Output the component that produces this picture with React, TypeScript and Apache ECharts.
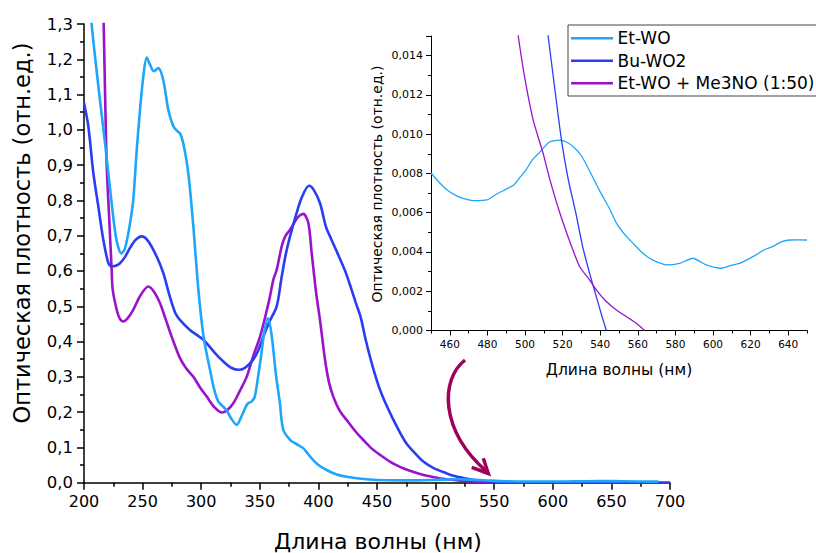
import React, { useEffect, useRef } from "react";
import * as echarts from "echarts";

// ---- Main chart data: [wavelength nm, optical density] ----
const etWoMain: [number, number][] = [
  [204, 1.4], [206.5, 1.3], [210, 1.19], [213.6, 1.085], [218, 0.96], [222, 0.84], [226.3, 0.717],
  [229, 0.67], [232, 0.65], [235, 0.665], [237.8, 0.707], [240, 0.75], [242, 0.8], [245, 0.943],
  [247.8, 1.057], [250.6, 1.151], [253.5, 1.205], [256.3, 1.185], [259.7, 1.166], [263.4, 1.175],
  [267.6, 1.142], [271.9, 1.057], [276.2, 1.01], [280, 0.995], [282, 0.99], [284.7, 0.962],
  [289, 0.877], [293.3, 0.726], [297.6, 0.547], [302, 0.414], [307.5, 0.32], [311, 0.265],
  [314.6, 0.23], [318, 0.218], [321.7, 0.205], [326, 0.18], [330.3, 0.164], [334, 0.185],
  [338, 0.215], [340, 0.225], [343, 0.23], [345.7, 0.244], [348.5, 0.3], [351.4, 0.367],
  [354, 0.43], [357, 0.466], [360, 0.42], [364, 0.3], [367, 0.23], [370, 0.15], [376, 0.121],
  [381, 0.11], [387, 0.098], [391, 0.082], [395.6, 0.064], [400, 0.05], [407, 0.036],
  [415, 0.024], [424, 0.017], [441, 0.01], [460, 0.007], [480, 0.0066], [500, 0.008],
  [519, 0.0097], [540, 0.007], [560, 0.0042], [580, 0.0034], [600, 0.0033], [620, 0.0037],
  [640, 0.0046], [660, 0.004], [690, 0.003],
];

const buWo2Main: [number, number][] = [
  [200, 1.076], [203.7, 1.01], [208, 0.877], [212.2, 0.783], [216.5, 0.688], [220.8, 0.622],
  [223.6, 0.613], [227, 0.615], [230.7, 0.622], [235, 0.64], [239.2, 0.665], [244, 0.688],
  [249.2, 0.698], [254.9, 0.684], [262, 0.641], [267.7, 0.594], [273, 0.53], [278, 0.48],
  [282, 0.461], [290.4, 0.433], [301.8, 0.405], [313.2, 0.362], [320, 0.34], [326, 0.325],
  [331.7, 0.32], [337, 0.325], [343, 0.343], [348, 0.37], [353, 0.414], [358, 0.455],
  [364.4, 0.5], [368.5, 0.58], [372, 0.645], [375.8, 0.698], [381, 0.76], [386, 0.81],
  [392, 0.8415], [396, 0.83], [401.4, 0.792], [406.4, 0.726], [411, 0.69], [415, 0.66],
  [419, 0.63], [423.5, 0.594], [428, 0.55], [432, 0.509], [436, 0.47], [440, 0.41],
  [444, 0.357], [448, 0.31], [452.6, 0.263], [458, 0.22], [464, 0.178], [470, 0.14],
  [475, 0.112], [482, 0.085], [489.5, 0.06], [498, 0.042], [509, 0.027], [517, 0.018],
  [526, 0.012], [537, 0.006], [549, 0.003], [570, 0.001], [700, 0.0005],
];

const etWoMe3noMain: [number, number][] = [
  [215.5, 1.5], [216.8, 1.3], [218, 1.1], [219.4, 0.896], [221.5, 0.75], [223.6, 0.603],
  [224.5, 0.547], [227.9, 0.49], [230.5, 0.465], [233.5, 0.457], [237, 0.465], [242, 0.49],
  [248, 0.53], [254.9, 0.556], [260, 0.54], [264.8, 0.509], [270, 0.46], [274.8, 0.414],
  [281.9, 0.353], [287, 0.325], [293.3, 0.3], [299, 0.27], [304.7, 0.244], [311, 0.215],
  [317.5, 0.199], [322, 0.205], [327.4, 0.225], [333, 0.26], [338.8, 0.3], [344, 0.355],
  [350.2, 0.414], [355, 0.475], [358.7, 0.528], [361.5, 0.575], [364.4, 0.603], [368.7, 0.67],
  [372, 0.7], [375.8, 0.717], [380, 0.74], [383, 0.754], [387.1, 0.762], [391.4, 0.736],
  [394.3, 0.65], [398, 0.54], [401.4, 0.46], [405.6, 0.35], [409, 0.285], [412.7, 0.244],
  [418, 0.205], [424, 0.178], [431, 0.148], [438.3, 0.121], [445, 0.098], [452.6, 0.079],
  [461, 0.06], [469.6, 0.045], [478, 0.034], [486.7, 0.025], [495, 0.018], [503.8, 0.012],
  [512, 0.009], [520.8, 0.006], [535, 0.003], [550, 0.0015], [565, 0.0005],
];

// ---- Inset data ----
const etWoInset: [number, number][] = [
  [450, 0.00802], [454.8, 0.0075], [458.6, 0.00716], [465.5, 0.00678], [472.7, 0.00661],
  [479.8, 0.00665], [484.9, 0.00695], [490, 0.0072], [494, 0.00741], [497.3, 0.0078],
  [500, 0.0081], [504, 0.0087], [508, 0.0091], [513, 0.0096], [518.7, 0.0097], [522, 0.0096],
  [525.7, 0.00936], [530, 0.0089], [534.5, 0.0081], [539.8, 0.0071], [545, 0.0062],
  [548.7, 0.00546], [553, 0.0049], [557.5, 0.00444], [562, 0.004], [566.3, 0.00368],
  [570, 0.0035], [575.2, 0.00334], [582.2, 0.00342], [589.3, 0.00368], [596.4, 0.00334],
  [604.4, 0.00317], [609, 0.0033], [614.1, 0.00342], [618, 0.0036], [622.9, 0.00385],
  [627, 0.0041], [631.8, 0.00427], [636, 0.0045], [640.7, 0.00461], [645, 0.00462],
  [650, 0.00461],
];

const buWo2Inset: [number, number][] = [
  [510, 0.0167], [512.3, 0.015], [516, 0.0122], [519.4, 0.0097], [523, 0.0077], [527, 0.006],
  [530.6, 0.0043], [534.4, 0.0029], [538, 0.0017], [541, 0.0007], [543.3, 0],
];

const etWoMe3noInset: [number, number][] = [
  [494, 0.0168], [496.4, 0.015], [500, 0.0128], [504.4, 0.0107], [509.7, 0.009],
  [513.2, 0.0077], [518.5, 0.006], [524.7, 0.0043], [529.1, 0.00325], [534.4, 0.00257],
  [538, 0.00206], [543, 0.0015], [548.6, 0.00104], [554, 0.0007], [559.2, 0.00037],
  [563.6, 0],
];

const seriesNames = ["Et-WO", "Bu-WO2", "Et-WO + Me3NO (1:50)"];
const seriesColors = ["#1ea6fb", "#2b3cf5", "#9a12cc"];
const insetXLabels = [460, 480, 500, 520, 540, 560, 580, 600, 620, 640];

const xTitle = "Длина волны (нм)";
const yTitle = "Оптическая плотность (отн.ед.)";

const FONT = "DejaVu Sans";

export default function App() {
  const ref = useRef<HTMLDivElement>(null);

  useEffect(() => {
    if (!ref.current) return;
    const chart = echarts.init(ref.current, undefined, { renderer: "svg" });

    const axisLineStyle = { color: "#000", width: 1.5 };
    const mainSeriesData = [etWoMain, buWo2Main, etWoMe3noMain];
    const insetSeriesData = [etWoInset, buWo2Inset, etWoMe3noInset];

    const series: any[] = [];
    mainSeriesData.forEach((d, i) => {
      series.push({
        name: seriesNames[i],
        type: "line",
        xAxisIndex: 0,
        yAxisIndex: 0,
        data: d,
        symbol: "none",
        smooth: 0.3,
        lineStyle: { color: seriesColors[i], width: 2.6 },
        clip: true,
        z: 3 - i,
      });
    });
    insetSeriesData.forEach((d, i) => {
      series.push({
        name: seriesNames[i],
        type: "line",
        xAxisIndex: 1,
        yAxisIndex: 1,
        data: d,
        symbol: "none",
        smooth: 0.2,
        lineStyle: { color: seriesColors[i], width: 1.3 },
        clip: true,
      });
    });

    // Legend drawn as graphic
    const legendLeft = 568;
    const legendTop = 25;
    const rowGap = 22.5;
    const legendElems: any[] = [
      {
        type: "rect",
        shape: { x: legendLeft, y: legendTop, width: 270, height: 71 },
        style: { fill: "#fff", stroke: "#444", lineWidth: 1 },
        z: 10,
      },
    ];
    seriesNames.forEach((n, i) => {
      const cy = legendTop + 13.3 + i * rowGap;
      legendElems.push({
        type: "line",
        shape: { x1: legendLeft + 3, y1: cy, x2: legendLeft + 45, y2: cy },
        style: { stroke: seriesColors[i], lineWidth: 2.6 },
        z: 11,
      });
      legendElems.push({
        type: "text",
        x: legendLeft + 49.5,
        y: cy,
        style: {
          text: n,
          font: `17px '${FONT}'`,
          fill: "#000",
          textAlign: "left",
          textVerticalAlign: "middle",
        },
        z: 11,
      });
    });

    const option: any = {
      animation: false,
      backgroundColor: "#fff",
      grid: [
        { left: 84, top: 24, width: 586, height: 458.7, containLabel: false, outerBoundsMode: "none" },
        { left: 431, top: 36, width: 376, height: 294.5, containLabel: false, outerBoundsMode: "none" },
      ],
      xAxis: [
        {
          type: "value",
          gridIndex: 0,
          position: "bottom",
          min: 200,
          max: 700,
          interval: 50,
          axisLine: { show: true, lineStyle: axisLineStyle },
          axisTick: { show: true, inside: false, length: 7, lineStyle: axisLineStyle },
          minorTick: { show: true, splitNumber: 2, length: 4, lineStyle: { color: "#000", width: 1.5 } },
          axisLabel: { fontFamily: FONT, fontSize: 16, color: "#000", margin: 11 },
          splitLine: { show: false },
        },
        {
          type: "value",
          gridIndex: 1,
          position: "bottom",
          min: 450,
          max: 650,
          axisLine: { show: true, lineStyle: { color: "#000", width: 1 } },
          axisTick: { show: true, inside: false, length: 5, customValues: insetXLabels, lineStyle: { color: "#000", width: 1 } },
          axisLabel: { fontFamily: FONT, fontSize: 10.5, color: "#000", margin: 8, customValues: insetXLabels },
          splitLine: { show: false },
        },
        {
          type: "value",
          gridIndex: 1,
          position: "bottom",
          offset: 0,
          min: 450,
          max: 650,
          interval: 10,
          axisLine: { show: false },
          axisTick: { show: true, inside: false, length: 3, lineStyle: { color: "#000", width: 1 } },
          axisLabel: { show: false },
          splitLine: { show: false },
        },
      ],
      yAxis: [
        {
          type: "value",
          gridIndex: 0,
          position: "left",
          min: 0,
          max: 1.3,
          interval: 0.1,
          axisLine: { show: true, lineStyle: axisLineStyle },
          axisTick: { show: true, inside: false, length: 7, lineStyle: axisLineStyle },
          minorTick: { show: true, splitNumber: 2, length: 4, lineStyle: { color: "#000", width: 1.5 } },
          axisLabel: {
            fontFamily: FONT,
            fontSize: 16.5,
            color: "#000",
            margin: 11,
            formatter: (v: number) => v.toFixed(1).replace(".", ","),
          },
          splitLine: { show: false },
        },
        {
          type: "value",
          gridIndex: 1,
          position: "left",
          min: 0,
          max: 0.015,
          interval: 0.002,
          axisLine: { show: true, lineStyle: { color: "#000", width: 1 } },
          axisTick: { show: true, inside: false, length: 5, lineStyle: { color: "#000", width: 1 } },
          minorTick: { show: true, splitNumber: 2, length: 3, lineStyle: { color: "#000", width: 1 } },
          axisLabel: {
            fontFamily: FONT,
            fontSize: 11,
            color: "#000",
            margin: 8,
            showMaxLabel: false,
            formatter: (v: number) => (v > 0.0145 ? "" : v.toFixed(3).replace(".", ",")),
          },
          splitLine: { show: false },
        },
      ],
      series,
      graphic: [
        {
          type: "text",
          x: 378,
          y: 541,
          style: { text: xTitle, font: `22px '${FONT}'`, fill: "#000", textAlign: "center", textVerticalAlign: "middle" },
        },
        {
          type: "text",
          x: 22,
          y: 233,
          rotation: Math.PI / 2,
          style: { text: yTitle, font: `22.5px '${FONT}'`, fill: "#000", textAlign: "center", textVerticalAlign: "middle" },
        },
        {
          type: "text",
          x: 619,
          y: 370,
          style: { text: xTitle, font: `15.5px '${FONT}'`, fill: "#000", textAlign: "center", textVerticalAlign: "middle" },
        },
        {
          type: "text",
          x: 377,
          y: 184,
          rotation: Math.PI / 2,
          style: { text: yTitle, font: `14px '${FONT}'`, fill: "#000", textAlign: "center", textVerticalAlign: "middle" },
        },
        ...legendElems,
        {
          type: "bezierCurve",
          shape: { x1: 465, y1: 360, cpx1: 440, cpy1: 380, cpx2: 440, cpy2: 430, x2: 486, y2: 471 },
          style: { stroke: "#a0005a", lineWidth: 3.5, fill: null },
          z: 12,
        },
        {
          type: "polyline",
          shape: { points: [[471.7, 467.3], [488.3, 473.5], [483.3, 458.3]] },
          style: { stroke: "#a0005a", lineWidth: 3.5, fill: null, lineJoin: "miter" },
          z: 12,
        },
      ],
    };

    chart.setOption(option);
    return () => chart.dispose();
  }, []);

  return (
    <div
      ref={ref}
      style={{ position: "absolute", left: 0, top: 0, width: 816, height: 553, background: "#fff" }}
    />
  );
}
